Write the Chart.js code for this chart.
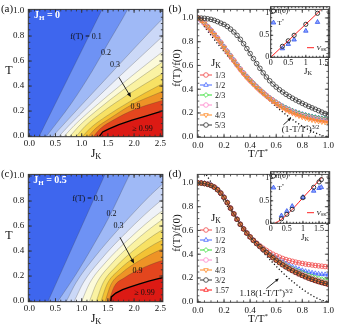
<!DOCTYPE html>
<html><head><meta charset="utf-8">
<script src="https://cdn.jsdelivr.net/npm/chart.js@4.4.0/dist/chart.umd.min.js"></script>
<style>
body{margin:0;background:#fff;}
#wrap{position:relative;width:337px;height:331px;overflow:hidden;font-family:'Liberation Serif','DejaVu Serif',serif;color:#111;}
.p{position:absolute;}
.p canvas{display:block;}
.t{position:absolute;white-space:nowrap;line-height:1;transform:translate(-50%,-50%);}
.r{transform:translate(-50%,-50%) rotate(-90deg);}
sub{font-size:70%;vertical-align:-0.28em;line-height:0}
sup{font-size:65%;vertical-align:0.5em;line-height:0}
</style></head><body>
<div id="wrap">
<div class="p" style="left:0;top:0"><canvas id="cA" width="168" height="165"></canvas></div>
<div class="p" style="left:168px;top:0"><canvas id="cB" width="169" height="165"></canvas></div>
<div class="p" style="left:0;top:165px"><canvas id="cC" width="168" height="166"></canvas></div>
<div class="p" style="left:168px;top:165px"><canvas id="cD" width="169" height="166"></canvas></div>
<div class="p" style="left:250px;top:0"><canvas id="iB" width="87" height="80"></canvas></div>
<div class="p" style="left:250px;top:165px"><canvas id="iD" width="87" height="80"></canvas></div>

<div class="t" style="left:7px;top:8px;font-size:11px">(a)</div>
<div class="t" style="left:175px;top:8px;font-size:11px">(b)</div>
<div class="t" style="left:7px;top:173px;font-size:11px">(c)</div>
<div class="t" style="left:175px;top:173px;font-size:11px">(d)</div>

<div class="t" style="left:47px;top:15px;font-size:10px;font-weight:bold;color:#fff">J<sub>H</sub> = 0</div>
<div class="t" style="left:86px;top:37px;font-size:8px">f(T) = 0.1</div>
<div class="t" style="left:106px;top:53px;font-size:8px">0.2</div>
<div class="t" style="left:115px;top:65px;font-size:8px">0.3</div>
<div class="t" style="left:135.5px;top:107px;font-size:8px">0.9</div>
<div class="t" style="left:142.5px;top:128.5px;font-size:8px">≥ 0.99</div>

<div class="t" style="left:50px;top:180px;font-size:10px;font-weight:bold;color:#fff">J<sub>H</sub> = 0.5</div>
<div class="t" style="left:88px;top:198.5px;font-size:8px">f(T) = 0.1</div>
<div class="t" style="left:111.5px;top:213.5px;font-size:8px">0.2</div>
<div class="t" style="left:118.5px;top:225.5px;font-size:8px">0.3</div>
<div class="t" style="left:137.5px;top:270.5px;font-size:8px">0.9</div>
<div class="t" style="left:144.5px;top:292.5px;font-size:8px">≥ 0.99</div>

<div class="t" style="left:96px;top:153px;font-size:12px">J<sub>K</sub></div>
<div class="t" style="left:9px;top:70px;font-size:12px">T</div>
<div class="t" style="left:96px;top:318px;font-size:12px">J<sub>K</sub></div>
<div class="t" style="left:9px;top:235px;font-size:12px">T</div>

<div class="t" style="left:258px;top:153px;font-size:11px">T/T<sup>*</sup></div>
<div class="t r" style="left:176px;top:68px;font-size:11px">f(T)/f(0)</div>
<div class="t" style="left:258px;top:318px;font-size:11px">T/T<sup>*</sup></div>
<div class="t r" style="left:176px;top:233px;font-size:11px">f(T)/f(0)</div>

<div class="t" style="left:216px;top:62px;font-size:11px">J<sub>K</sub></div>
<div class="t" style="left:216px;top:217px;font-size:11px">J<sub>K</sub></div>
<div class="t" style="left:300.5px;top:128.5px;font-size:9px">(1-T/T<sup>*</sup>)<sup>3/2</sup></div>
<div class="t" style="left:266px;top:292.5px;font-size:9px">1.18(1-T/T<sup>*</sup>)<sup>3/2</sup></div>
<div class="t" style="left:308px;top:71px;font-size:9px">J<sub>K</sub></div>
<div class="t" style="left:305px;top:237px;font-size:9px">J<sub>K</sub></div>
</div>
<script>
// ---------------- DATA ----------------
// contour boundaries f(T)=level, panel (a) J_H = 0 : [J_K, T] pairs
const levels = [0.1, 0.2, 0.3, 0.4, 0.5, 0.6, 0.7, 0.8, 0.85, 0.9, 0.99];
const a_c1  = [[0.19,0],[1.61,1.2],[2.7,1.2]];
const a_c2  = [[0.33,0],[0.8,0.26],[1.2,0.52],[1.5,0.74],[1.86,1.0],[2.1,1.2],[2.7,1.25]];
const a_c3  = [[0.45,0],[1.0,0.25],[1.5,0.475],[2.0,0.70],[2.5,0.92],[2.7,1.0]];
const a_c4  = [[0.57,0],[0.763,0.087],[1.149,0.248],[1.728,0.48],[2.5,0.78],[2.7,0.86]];
const a_c5  = [[0.67,0],[0.853,0.083],[1.219,0.223],[1.768,0.416],[2.5,0.66],[2.7,0.72]];
const a_c6  = [[0.78,0],[0.952,0.082],[1.296,0.208],[1.812,0.376],[2.5,0.58],[2.7,0.64]];
const a_c7  = [[0.90,0],[1.06,0.077],[1.38,0.187],[1.86,0.326],[2.5,0.49],[2.7,0.54]];
const a_c8  = [[1.02,0],[1.168,0.065],[1.464,0.157],[1.908,0.273],[2.5,0.41],[2.7,0.45]];
const a_c9  = [[1.13,0],[1.267,0.062],[1.541,0.142],[1.952,0.25],[2.5,0.35],[2.7,0.385]];
const a_c10 = [[1.23,0],[1.357,0.06],[1.611,0.13],[1.992,0.21],[2.5,0.28],[2.7,0.305]];
const a_c11 = [[1.34,0],[1.40,0.033],[1.52,0.058],[1.71,0.092],[1.96,0.127],[2.22,0.16],[2.5,0.196],[2.7,0.22]];
// panel (c) J_H = 0.5
const c_c1  = [[0.36,0],[1.43,1.0],[1.65,1.2],[2.7,1.2]];
const c_c2  = [[0.55,0],[0.9,0.22],[1.2,0.43],[1.52,0.67],[1.9,1.0],[2.2,1.25],[2.7,1.3]];
const c_c3  = [[0.71,0],[0.889,0.145],[1.247,0.351],[1.784,0.612],[2.5,0.92],[2.7,0.98]];
const c_c4  = [[0.86,0],[1.024,0.142],[1.352,0.325],[1.844,0.546],[2.5,0.8],[2.7,0.86]];
const c_c5  = [[1.0,0],[1.15,0.142],[1.45,0.306],[1.9,0.496],[2.5,0.71],[2.7,0.76]];
const c_c6  = [[1.15,0],[1.285,0.143],[1.555,0.292],[1.96,0.459],[2.5,0.64],[2.7,0.69]];
const c_c7  = [[1.28,0],[1.402,0.141],[1.646,0.272],[2.012,0.412],[2.5,0.56],[2.7,0.6]];
const c_c8  = [[1.37,0],[1.483,0.135],[1.709,0.248],[2.048,0.362],[2.5,0.48],[2.7,0.51]];
const c_c9  = [[1.45,0],[1.555,0.13],[1.765,0.225],[2.08,0.318],[2.5,0.41],[2.7,0.44]];
const c_c10 = [[1.52,0],[1.618,0.114],[1.814,0.186],[2.108,0.254],[2.5,0.32],[2.7,0.345]];
const c_c11 = [[1.555,0],[1.565,0.033],[1.65,0.064],[1.78,0.092],[1.90,0.109],[2.09,0.135],[2.28,0.16],[2.5,0.183],[2.7,0.2]];
const fullArea = [[-0.1,2],[2.7,2]];

// panels (b),(d): f(T)/f(0) vs T/T*
const tAxis = [0,0.025,0.05,0.075,0.1,0.125,0.15,0.175,0.2,0.225,0.25,0.275,0.3,0.325,0.35,0.375,0.4,0.425,0.45,0.475,0.5,0.525,0.55,0.575,0.6,0.625,0.65,0.675,0.7,0.725,0.75,0.775,0.8,0.825,0.85,0.875,0.9,0.925,0.95,0.975,1.0];
const b_13 = [1.000,0.980,0.955,0.926,0.895,0.863,0.830,0.793,0.755,0.717,0.680,0.642,0.605,0.569,0.535,0.504,0.475,0.447,0.420,0.394,0.370,0.347,0.325,0.306,0.286,0.269,0.252,0.238,0.225,0.213,0.202,0.192,0.184,0.176,0.169,0.163,0.157,0.152,0.148,0.144,0.140];
const b_12 = [1.000,0.981,0.957,0.928,0.898,0.866,0.833,0.797,0.759,0.721,0.684,0.646,0.609,0.573,0.539,0.508,0.479,0.451,0.424,0.398,0.373,0.349,0.328,0.309,0.290,0.273,0.257,0.243,0.231,0.219,0.208,0.199,0.190,0.183,0.176,0.170,0.164,0.160,0.155,0.151,0.147];
const b_23 = [1.000,0.980,0.956,0.927,0.896,0.864,0.831,0.795,0.757,0.719,0.682,0.644,0.607,0.571,0.537,0.506,0.477,0.449,0.422,0.396,0.372,0.348,0.327,0.308,0.289,0.272,0.256,0.242,0.229,0.217,0.206,0.197,0.188,0.181,0.174,0.168,0.162,0.157,0.153,0.149,0.145];
const b_1  = [1.000,0.980,0.955,0.925,0.894,0.862,0.829,0.792,0.754,0.716,0.678,0.640,0.603,0.567,0.533,0.502,0.473,0.445,0.418,0.392,0.368,0.346,0.324,0.304,0.284,0.266,0.249,0.234,0.221,0.208,0.197,0.187,0.178,0.170,0.163,0.157,0.151,0.146,0.141,0.137,0.133];
const b_43 = [1.000,0.979,0.953,0.923,0.891,0.858,0.824,0.787,0.748,0.710,0.672,0.634,0.597,0.561,0.527,0.496,0.467,0.439,0.412,0.387,0.363,0.340,0.318,0.297,0.277,0.258,0.241,0.225,0.211,0.198,0.186,0.175,0.165,0.156,0.148,0.141,0.135,0.130,0.125,0.121,0.117];
const b_53 = [1.000,0.999,0.997,0.993,0.988,0.980,0.969,0.956,0.945,0.928,0.906,0.882,0.853,0.820,0.783,0.742,0.700,0.658,0.616,0.576,0.538,0.503,0.471,0.443,0.418,0.396,0.376,0.357,0.340,0.324,0.309,0.295,0.281,0.268,0.255,0.243,0.231,0.219,0.207,0.195,0.184];
const dotXB = [0,0.05,0.1,0.15,0.2,0.25,0.3,0.35,0.4,0.45,0.5,0.55,0.6,0.65,0.7,0.75,0.8,0.85,0.9,0.95,1.0];
const dotB  = [1.0,0.926,0.854,0.784,0.716,0.65,0.586,0.524,0.465,0.408,0.354,0.302,0.253,0.207,0.164,0.125,0.089,0.058,0.032,0.011,0.0];

const d_13 = [1.0,0.999,0.995,0.989,0.98,0.966,0.945,0.916,0.88,0.836,0.789,0.741,0.695,0.653,0.614,0.579,0.547,0.518,0.493,0.470,0.450,0.432,0.415,0.400,0.387,0.375,0.364,0.355,0.347,0.340,0.333,0.327,0.322,0.317,0.313,0.309,0.305,0.302,0.299,0.296,0.293];
const d_12 = [1.0,0.999,0.996,0.990,0.981,0.968,0.947,0.918,0.881,0.837,0.790,0.742,0.696,0.653,0.614,0.579,0.547,0.518,0.491,0.467,0.443,0.421,0.400,0.381,0.364,0.348,0.333,0.319,0.306,0.294,0.283,0.273,0.264,0.256,0.249,0.243,0.238,0.234,0.231,0.229,0.227];
const d_23 = [1.0,0.999,0.995,0.989,0.980,0.966,0.944,0.915,0.879,0.835,0.788,0.740,0.694,0.652,0.613,0.578,0.546,0.517,0.490,0.466,0.441,0.418,0.397,0.377,0.358,0.340,0.323,0.307,0.292,0.278,0.265,0.253,0.242,0.231,0.221,0.212,0.204,0.197,0.190,0.185,0.180];
const d_1  = [1.0,0.999,0.995,0.989,0.980,0.965,0.944,0.915,0.879,0.835,0.788,0.740,0.694,0.652,0.613,0.578,0.546,0.517,0.490,0.465,0.440,0.417,0.395,0.374,0.354,0.335,0.317,0.300,0.284,0.269,0.255,0.242,0.230,0.219,0.208,0.198,0.188,0.179,0.171,0.164,0.157];
const d_43 = [1.0,0.999,0.995,0.988,0.979,0.965,0.943,0.914,0.878,0.834,0.787,0.739,0.693,0.651,0.612,0.577,0.545,0.516,0.489,0.465,0.440,0.416,0.393,0.372,0.351,0.331,0.313,0.295,0.279,0.264,0.250,0.237,0.225,0.213,0.202,0.192,0.182,0.173,0.165,0.158,0.151];
const d_32 = [1.0,0.999,0.995,0.988,0.979,0.964,0.943,0.914,0.878,0.834,0.787,0.739,0.693,0.651,0.612,0.577,0.545,0.516,0.489,0.464,0.439,0.415,0.392,0.370,0.349,0.329,0.310,0.292,0.276,0.261,0.247,0.234,0.221,0.209,0.198,0.188,0.178,0.169,0.161,0.154,0.147];
const d_157= [1.0,0.999,0.995,0.988,0.978,0.964,0.942,0.913,0.877,0.833,0.786,0.738,0.692,0.650,0.611,0.576,0.544,0.515,0.488,0.464,0.438,0.414,0.391,0.369,0.347,0.327,0.308,0.290,0.273,0.257,0.243,0.229,0.217,0.205,0.194,0.183,0.173,0.164,0.156,0.149,0.142];
const dotXD = [0.05,0.1,0.15,0.2,0.25,0.3,0.35,0.4,0.45,0.5,0.55,0.6,0.65,0.7,0.75,0.8,0.85,0.9,0.95,1.0];
const dotD  = [1.093,1.007,0.925,0.844,0.766,0.691,0.618,0.548,0.481,0.417,0.356,0.299,0.244,0.194,0.148,0.106,0.069,0.037,0.013,0.0];

// insets
const insB_J = [0.333,0.5,0.667,1.0,1.333];
const insB_f0 = [0.25,0.375,0.5,0.75,1.0];
const insB_Ts = [0.2,0.3,0.4,0.6,0.8];
const insB_V = [[0,0],[1.42,1.07]];
const insD_J = [0.333,0.5,0.667,1.0,1.333,1.5,1.57];
const insD_f0 = [0.1,0.2,0.31,0.57,0.8,0.92,0.97];
const insD_Ts = [0.17,0.27,0.38,0.58,0.72,0.78,0.8];
const insD_V = [[0.12,0],[0.3,0.07],[0.5,0.19],[0.75,0.37],[1.0,0.57],[1.3,0.8],[1.6,1.03]];

const bandColors = ['#3e66ee','#6e92f4','#9fb9f6','#cbd8f7','#eff2f8','#fcfad8','#faf2a2','#f7e164','#f3c234','#ee9326','#e3461e','#dc1a14'];

// ---------------- HELPERS ----------------
const HL = Chart.helpers;
const FONT = "'Liberation Serif'";
Chart.defaults.font.family = FONT;
Chart.defaults.color = '#111';

const framePlugin = {
  id: 'frameTicks',
  afterDatasetsDraw(chart, args, o) {
    if (!o || !o.on) return;
    const ctx = chart.ctx, a = chart.chartArea, xs = chart.scales.x, ys = chart.scales.y;
    ctx.save();
    ctx.strokeStyle = o.color; ctx.lineWidth = 0.9;
    ctx.beginPath();
    const tick = (sc, step, len, horiz) => {
      const n0 = Math.ceil(sc.min / step - 1e-6), n1 = Math.floor(sc.max / step + 1e-6);
      for (let n = n0; n <= n1; n++) {
        const p = sc.getPixelForValue(n * step);
        if (horiz) { ctx.moveTo(p, a.bottom); ctx.lineTo(p, a.bottom - len); ctx.moveTo(p, a.top); ctx.lineTo(p, a.top + len); }
        else { ctx.moveTo(a.left, p); ctx.lineTo(a.left + len, p); ctx.moveTo(a.right, p); ctx.lineTo(a.right - len, p); }
      }
    };
    tick(xs, o.xMinor, o.minLen, true); tick(xs, o.xMajor, o.majLen, true);
    tick(ys, o.yMinor, o.minLen, false); tick(ys, o.yMajor, o.majLen, false);
    ctx.stroke();
    ctx.lineWidth = 1;
    ctx.strokeRect(a.left, a.top, a.right - a.left, a.bottom - a.top);
    ctx.restore();
  }
};
const arrowPlugin = {
  id: 'arrows',
  afterDatasetsDraw(chart, args, o) {
    if (!o || !o.list) return;
    const ctx = chart.ctx, xs = chart.scales.x, ys = chart.scales.y;
    ctx.save(); ctx.strokeStyle = '#111'; ctx.fillStyle = '#111'; ctx.lineWidth = 0.9;
    o.list.forEach(ar => {
      const x1 = xs.getPixelForValue(ar.from[0]), y1 = ys.getPixelForValue(ar.from[1]);
      const x2 = xs.getPixelForValue(ar.to[0]), y2 = ys.getPixelForValue(ar.to[1]);
      const ang = Math.atan2(y2 - y1, x2 - x1), L = ar.head || 4;
      ctx.beginPath(); ctx.moveTo(x1, y1); ctx.lineTo(x2 - Math.cos(ang) * L * 0.6, y2 - Math.sin(ang) * L * 0.6); ctx.stroke();
      ctx.beginPath(); ctx.moveTo(x2, y2);
      ctx.lineTo(x2 - L * Math.cos(ang - 0.4), y2 - L * Math.sin(ang - 0.4));
      ctx.lineTo(x2 - L * Math.cos(ang + 0.4), y2 - L * Math.sin(ang + 0.4));
      ctx.closePath(); ctx.fill();
    });
    ctx.restore();
  }
};
function richText(ctx, parts, x, y, size) {
  let cx = x;
  parts.forEach(p => {
    const s = (p.sub || p.sup) ? size * 0.7 : size;
    ctx.font = (p.it ? 'italic ' : '') + s + 'px ' + FONT;
    const dy = p.sub ? size * 0.3 : (p.sup ? -size * 0.35 : 0);
    ctx.fillText(p.t, cx, y + dy);
    cx += ctx.measureText(p.t).width;
  });
}
const legendPlugin = {
  id: 'seriesLegend',
  afterDatasetsDraw(chart, args, o) {
    if (!o || !o.on) return;
    const ctx = chart.ctx;
    ctx.save();
    chart.data.datasets.forEach(d => {
      if (d.legendRow === undefined) return;
      const y = o.y0 + d.legendRow * o.dy;
      ctx.strokeStyle = d.borderColor; ctx.lineWidth = 1;
      ctx.beginPath(); ctx.moveTo(o.x0, y); ctx.lineTo(o.x0 + o.len, y); ctx.stroke();
      ctx.fillStyle = 'rgba(255,255,255,1)'; ctx.lineWidth = d.pointBorderWidth;
      HL.drawPoint(ctx, {pointStyle: d.pointStyle, rotation: d.pointRotation || 0, radius: d.pointRadius, borderWidth: d.pointBorderWidth}, o.x0 + o.len / 2, y);
      ctx.fillStyle = '#111'; ctx.textBaseline = 'middle';
      ctx.font = o.size + 'px ' + FONT;
      ctx.fillText(d.label, o.tx, y + 0.5);
    });
    ctx.restore();
  }
};
const insetLegendPlugin = {
  id: 'insetLegend',
  afterDatasetsDraw(chart, args, o) {
    if (!o || !o.items) return;
    const ctx = chart.ctx;
    ctx.save(); ctx.textBaseline = 'middle';
    o.items.forEach(it => {
      const d = chart.data.datasets[it.ds];
      if (it.kind === 'line') {
        ctx.strokeStyle = d.borderColor; ctx.lineWidth = d.borderWidth;
        ctx.beginPath(); ctx.moveTo(it.x, it.y); ctx.lineTo(it.x + it.len, it.y); ctx.stroke();
      } else {
        ctx.strokeStyle = d.pointBorderColor; ctx.fillStyle = d.pointBackgroundColor; ctx.lineWidth = d.pointBorderWidth;
        HL.drawPoint(ctx, {pointStyle: d.pointStyle, rotation: 0, radius: d.pointRadius, borderWidth: d.pointBorderWidth}, it.x, it.y);
      }
      ctx.fillStyle = '#111';
      richText(ctx, it.text, it.tx, it.y, o.size);
    });
    ctx.restore();
  }
};
Chart.register(framePlugin, arrowPlugin, legendPlugin, insetLegendPlugin);

function axis(min, max, ticks, fmt, pad, fit, horiz, size) {
  return {
    type: 'linear', min, max,
    afterBuildTicks: s => { s.ticks = ticks.map(v => ({value: v})); },
    ticks: {callback: fmt, font: {size, family: FONT}, color: '#111', padding: pad, maxRotation: 0, autoSkip: false},
    grid: {display: false, drawTicks: false},
    border: {display: false},
    afterFit: s => { if (horiz) s.height = fit; else s.width = fit; }
  };
}
const f1 = v => v.toFixed(1);
const baseOpts = {responsive: false, animation: false, devicePixelRatio: 1, events: []};
const pts = arr => arr.map(p => ({x: p[0], y: p[1]}));

function contourChart(id, contours, padTop, xh, arrow) {
  const ds = [];
  for (let k = contours.length - 1; k >= 0; k--) {
    const black = (k === contours.length - 1);
    ds.push({
      data: pts(contours[k]), fill: {value: -1},
      backgroundColor: bandColors[k + 1],
      borderColor: black ? '#000' : 'rgba(60,60,60,0.5)',
      borderWidth: black ? 1.4 : 0.5,
      pointRadius: 0,
      tension: (black || k === 0) ? 0 : 0.4,
      cubicInterpolationMode: (black || k === 0) ? 'default' : 'monotone'
    });
  }
  ds.push({data: pts(fullArea), fill: {value: -1}, backgroundColor: bandColors[0], borderWidth: 0, pointRadius: 0});
  new Chart(document.getElementById(id), {
    type: 'line',
    data: {datasets: ds},
    options: Object.assign({}, baseOpts, {
      layout: {padding: {left: 0, top: padTop, right: 3.7, bottom: 0}},
      scales: {
        x: axis(-0.019, 2.549, [0, 0.5, 1, 1.5, 2, 2.5], f1, 2, xh, true, 9),
        y: axis(-0.005, 1.013, [0, 0.2, 0.4, 0.6, 0.8, 1.0], f1, 4, 28.3, false, 9)
      },
      plugins: {
        legend: {display: false}, tooltip: {enabled: false},
        frameTicks: {on: true, color: '#333', xMajor: 0.5, xMinor: 0.1, yMajor: 0.2, yMinor: 0.05, majLen: 3.5, minLen: 2},
        arrows: {list: [arrow]}
      }
    })
  });
}
contourChart('cA', [a_c1, a_c2, a_c3, a_c4, a_c5, a_c6, a_c7, a_c8, a_c9, a_c10, a_c11], 3.3, 28.3, {from: [1.71, 0.47], to: [1.94, 0.31], head: 5});
contourChart('cC', [c_c1, c_c2, c_c3, c_c4, c_c5, c_c6, c_c7, c_c8, c_c9, c_c10, c_c11], 3.3, 29.3, {from: [1.73, 0.51], to: [2.0, 0.30], head: 5});

function series(label, vals, color, style, rot, r, row) {
  return {label, data: tAxis.map((x, i) => ({x, y: vals[i]})), borderColor: color, borderWidth: 0.8,
    pointBorderColor: color, pointBackgroundColor: 'rgba(255,255,255,0)', pointStyle: style, pointRotation: rot,
    pointRadius: r, pointBorderWidth: 0.8, fill: false, tension: 0, legendRow: row};
}
function dotted(xs, vals) {
  return {data: xs.map((x, i) => ({x, y: vals[i]})), borderColor: '#111', borderWidth: 1.3, borderDash: [1.2, 2.2],
    pointRadius: 0, fill: false, cubicInterpolationMode: 'monotone', tension: 0.4};
}
function lineChart(id, datasets, xh, legY0, arrow) {
  new Chart(document.getElementById(id), {
    type: 'line',
    data: {datasets},
    options: Object.assign({}, baseOpts, {
      layout: {padding: {left: 0, top: 2.7, right: 5.7, bottom: 0}},
      scales: {
        x: axis(-0.005, 1.0, [0, 0.2, 0.4, 0.6, 0.8, 1.0], f1, 3, xh, true, 9),
        y: axis(-0.005, 1.072, [0, 0.2, 0.4, 0.6, 0.8, 1.0], f1, 4, 29.3, false, 9)
      },
      plugins: {
        legend: {display: false}, tooltip: {enabled: false},
        frameTicks: {on: true, color: '#444', xMajor: 0.2, xMinor: 0.05, yMajor: 0.2, yMinor: 0.05, majLen: 3.5, minLen: 2},
        seriesLegend: {on: true, x0: 32, len: 12, tx: 47, y0: legY0, dy: 10, size: 8},
        arrows: {list: [arrow]}
      }
    })
  });
}
const cRed = '#f04a4a', cBlue = '#4466ff', cGreen = '#33dd33', cPink = '#ff88cc', cOrange = '#ff8822', cBlack = '#333333', cRed2 = '#ff1010';
lineChart('cB', [
  series('5/3', b_53, cBlack, 'circle', 0, 2.3, 5),
  series('4/3', b_43, cOrange, 'triangle', 180, 2.6, 4),
  series('1', b_1, cPink, 'circle', 0, 2.3, 3),
  series('2/3', b_23, cGreen, 'rectRot', 0, 2.4, 2),
  series('1/2', b_12, cBlue, 'triangle', 0, 2.6, 1),
  series('1/3', b_13, cRed, 'circle', 0, 2.3, 0),
  dotted(dotXB, dotB)
], 27.7, 75, {from: [0.655, 0.10], to: [0.715, 0.16], head: 4});
lineChart('cD', [
  series('3/2', d_32, cBlack, 'circle', 0, 2.3, 5),
  series('4/3', d_43, cOrange, 'triangle', 180, 2.6, 4),
  series('1.57', d_157, cRed2, 'triangle', 0, 2.6, 6),
  series('1', d_1, cPink, 'circle', 0, 2.3, 3),
  series('2/3', d_23, cGreen, 'rectRot', 0, 2.4, 2),
  series('1/2', d_12, cBlue, 'triangle', 0, 2.6, 1),
  series('1/3', d_13, cRed, 'circle', 0, 2.3, 0),
  dotted(dotXD, dotD)
], 28.7, 65, {from: [0.525, 0.11], to: [0.62, 0.196], head: 4});

function insetChart(id, J, f0, Ts, V, xmax, ymax, padTop, xh) {
  new Chart(document.getElementById(id), {
    type: 'scatter',
    data: {datasets: [
      {data: J.map((x, i) => ({x, y: f0[i]})), pointStyle: 'circle', pointRadius: 2.1, pointBorderWidth: 0.9, pointBorderColor: '#222', pointBackgroundColor: 'rgba(255,255,255,0)'},
      {data: J.map((x, i) => ({x, y: Ts[i]})), pointStyle: 'triangle', pointRadius: 2.6, pointBorderWidth: 0.8, pointBorderColor: '#3355ee', pointBackgroundColor: '#8fa6ff'},
      {data: pts(V), showLine: true, borderColor: '#ff2020', borderWidth: 1, pointRadius: 0, tension: 0.3, cubicInterpolationMode: 'monotone'}
    ]},
    options: Object.assign({}, baseOpts, {
      layout: {padding: {left: 0, top: padTop, right: 7.3, bottom: 0}},
      scales: {
        x: axis(0, xmax, [0, 0.5, 1, 1.5], v => String(v), 1, xh, true, 8),
        y: axis(0, ymax, [0, 0.5, 1], v => String(v), 1.5, 20.7, false, 8)
      },
      plugins: {
        legend: {display: false}, tooltip: {enabled: false},
        frameTicks: {on: true, color: '#333', xMajor: 0.5, xMinor: 0.1, yMajor: 0.5, yMinor: 0.1, majLen: 2.5, minLen: 1.5},
        insetLegend: {size: 7, items: [
          {ds: 0, kind: 'point', x: 23.5, y: 11, tx: 27.5, text: [{t: 'f(0)'}]},
          {ds: 1, kind: 'point', x: 23.5, y: 22.7, tx: 27.5, text: [{t: 'T'}, {t: '*', sup: true}]},
          {ds: 2, kind: 'line', x: 57, len: 7, y: 47.7, tx: 66.5, text: [{t: 'V', it: true}, {t: '0K', sub: true}]}
        ]}
      }
    })
  });
}
insetChart('iB', insB_J, insB_f0, insB_Ts, insB_V, 1.68, 1.15, 6.7, 22.7);
insetChart('iD', insD_J, insD_f0, insD_Ts, insD_V, 1.83, 1.147, 6.7, 21.7);
</script>
</body></html>
